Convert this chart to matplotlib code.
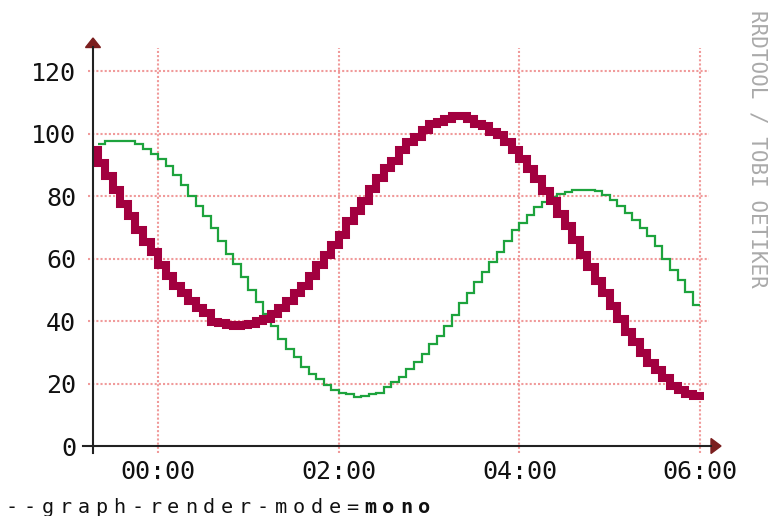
import numpy as np
import matplotlib
matplotlib.use("Agg")
import matplotlib.pyplot as plt
from matplotlib.lines import Line2D
from matplotlib.patches import Polygon

plt.rcParams['font.family'] = ['DejaVu Sans Mono']

# time axis: 5-minute steps, minutes relative to 00:00
STEP_MIN = 5
RED_START = -45
GREEN_START = -40

# step values
red_vals = [94.7, 90.6, 86.6, 81.8, 77.5, 73.5, 69.3, 65.2, 62.0, 58.0,
            54.5, 51.3, 48.9, 46.5, 44.2, 42.5, 39.6, 39.3, 38.8, 38.5,
            38.6, 39.0, 39.9, 40.6, 42.2, 44.2, 46.5, 48.9, 51.3, 54.5,
            58.0, 61.3, 64.5, 67.7, 72.0, 75.2, 78.4, 82.4, 85.9, 89.1,
            91.4, 94.7, 97.3, 98.9, 101.3, 103.0, 103.7, 104.8, 105.6, 105.6,
            104.8, 103.2, 102.4, 100.5, 99.5, 97.3, 94.7, 92.0, 88.8, 85.6,
            81.6, 78.5, 74.3, 70.3, 66.0, 61.3, 57.2, 52.9, 48.9, 44.9,
            40.6, 36.6, 33.4, 29.9, 26.7, 24.3, 21.9, 19.3, 17.9, 16.6,
            16.0]
green_vals = [96.8, 97.8, 97.8, 97.8, 97.8, 96.8, 95.2, 93.5, 91.9, 89.5,
              86.8, 83.6, 80.1, 76.9, 73.5, 69.7, 65.5, 61.5, 58.3, 54.2,
              49.9, 46.2, 42.3, 38.4, 34.4, 31.2, 28.6, 25.3, 23.0, 21.3,
              19.5, 17.9, 17.0, 16.8, 15.7, 15.9, 16.6, 17.0, 18.9, 20.5,
              22.1, 24.8, 27.0, 29.6, 32.8, 35.2, 38.4, 41.9, 45.9, 49.1,
              52.6, 55.8, 59.0, 62.2, 65.5, 69.0, 71.3, 74.0, 76.5, 78.0,
              79.6, 80.6, 81.2, 82.0, 82.0, 82.0, 81.5, 80.4, 78.8, 76.9,
              74.5, 72.2, 69.7, 67.3, 64.1, 59.8, 56.4, 53.2, 49.4, 45.1]

y_ticks = [0, 20, 40, 60, 80, 100, 120]
x_ticks = [0, 120, 240, 360]
x_labels = ['00:00', '02:00', '04:00', '06:00']
caption_plain = '--graph-render-mode='
caption_bold = 'mono'
watermark = 'RRDTOOL / TOBI OETIKER'

W, H = 769, 516


def fx(px):
    return px / W


def fy(py):
    return 1 - py / H


fig = plt.figure(figsize=(W / 100, H / 100), dpi=100)
fig.patch.set_facecolor('white')
ax = fig.add_axes([fx(93), fy(446), fx(704) - fx(93), fy(54) - fy(446)])
ax.set_xlim(-43.2, 362.6)
ax.set_ylim(0, 125.5)
for s in ax.spines.values():
    s.set_visible(False)

# dotted major grid, sticking out a few pixels past the data area
grid_kw = dict(color='#f09a9a', lw=1.5, dashes=(1, 1), zorder=1, clip_on=False)
for v in y_ticks[1:]:
    ax.axhline(v, xmin=-5 / 611, xmax=1 + 5 / 611, **grid_kw)
for t in x_ticks:
    ax.axvline(t, ymin=-7 / 392, ymax=1 + 6 / 392, **grid_kw)

red_edges = RED_START + STEP_MIN * np.arange(len(red_vals) + 1)
green_edges = GREEN_START + STEP_MIN * np.arange(len(green_vals) + 1)

ax.stairs(green_vals, green_edges, color='#1da33d', lw=1.6,
          baseline=None, zorder=3)
red = ax.stairs(red_vals, red_edges, color='#a2003f', lw=5.8,
                baseline=None, zorder=4)
red.set_capstyle('projecting')
red.set_joinstyle('miter')

ax.set_yticks(y_ticks)
ax.set_xticks(x_ticks, x_labels)
ax.tick_params(length=0, labelsize=18, labelcolor='#111')
ax.tick_params(axis='y', pad=12.2)
ax.tick_params(axis='x', pad=10)

# axes with arrows
axis_kw = dict(transform=fig.transFigure, color='#222222', lw=1.5)
fig.add_artist(Line2D([fx(83), fx(711)], [fy(446), fy(446)], **axis_kw))
fig.add_artist(Line2D([fx(93), fx(93)], [fy(453), fy(47)], **axis_kw))
fig.add_artist(Polygon([[fx(85.5), fy(47.5)], [fx(100.5), fy(47.5)], [fx(93), fy(38)]],
                       closed=True, transform=fig.transFigure, color='#7b1f1f'))
fig.add_artist(Polygon([[fx(711), fy(438.5)], [fx(711), fy(453.5)], [fx(721), fy(446)]],
                       closed=True, transform=fig.transFigure, color='#7b1f1f'))

fig.text(fx(758), fy(149), watermark, rotation=270, ha='center', va='center',
         color='#aaaaaa', fontsize=15)

caption = caption_plain + caption_bold
for i, ch in enumerate(caption):
    fig.text(fx(11.7 + 17.93 * i), fy(512.7), ch, ha='center', va='baseline',
             fontsize=14.5, color='#111111',
             fontweight='bold' if i >= len(caption_plain) else 'normal')

fig.savefig('out.png', dpi=100, facecolor='white')
